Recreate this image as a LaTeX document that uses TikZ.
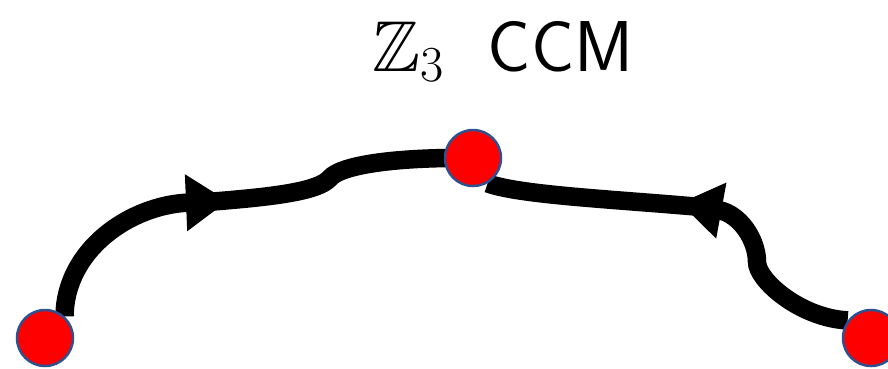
\RequirePackage{fix-cm}
\documentclass[tikz,border=0pt]{standalone}
\usepackage{amsmath,amssymb}
\usepackage{tikz}
\usetikzlibrary{arrows.meta,positioning,calc}
\pgfdeclarelayer{back}
\pgfsetlayers{back,main}
\definecolor{dotred}{RGB}{255,0,0}
\definecolor{dotblue}{RGB}{47,82,143}

\begin{document}
\begin{tikzpicture}[
    x=1pt, y=-1pt,
    dot/.style={circle, draw=dotblue, line width=2.5pt, fill=dotred, minimum size=56pt, inner sep=0pt},
    wire/.style={line width=18.5pt},
    head/.style={wire, -{Triangle[length=42pt, width=54pt]}},
    title/.style={font=\fontsize{72}{80}\selectfont}
  ]
  \useasboundingbox (0,0) rectangle (888,368);
  \node[title, anchor=base] (ttl) at (503,71) {$\mathbb{Z}_3$\ \ \textsf{CCM}};

  \node[dot] (L) at (45,338) {};
  \node[dot] (T) at (473,158) {};
  \node[dot] (R) at (871,338) {};
  \coordinate (tipL) at (228,201);
  \coordinate (midL) at (207,202);
  \coordinate (tipR) at (680,203);
  \coordinate (midR) at (701,207);

  \begin{pgfonlayer}{back}
    % left branch, arrow towards the top dot
    \draw[head] (L.48) .. controls (65,250) and (130,205) .. (tipL);
    \draw[wire] (midL) .. controls (270,197) and (318,192) .. (330,178)
                       .. controls (340,166) and (390,157) .. (T.center);
    % right branch, arrow towards the top dot
    \draw[wire] (T.-60) .. controls (520,195) and (610,199) .. (midR);
    \draw[head] (R.143) .. controls (800,318) and (757,280) .. (757,262)
                        .. controls (757,240) and (740,214) .. (tipR);
  \end{pgfonlayer}
\end{tikzpicture}
\end{document}
